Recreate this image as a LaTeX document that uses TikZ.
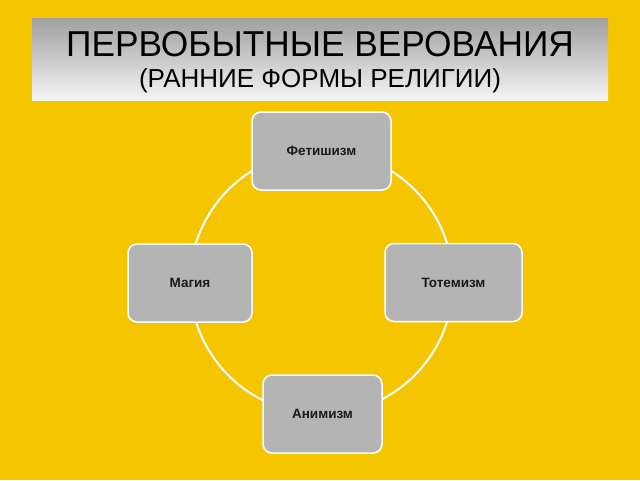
\documentclass[tikz,border=0pt]{standalone}
\usepackage{fontspec}
\setmainfont{Liberation Sans}
\definecolor{bgyellow}{HTML}{F5C500}
\definecolor{boxgray}{HTML}{B4B4B4}
\definecolor{txtdark}{HTML}{1A1A1A}

\begin{document}
\begin{tikzpicture}[x=1pt, y=-1pt,
		cult/.style={draw=white, line width=1.5pt, rounded corners=9pt, fill=boxgray,
			text=txtdark, font=\fontsize{13.5}{16}\selectfont\bfseries, minimum height=78pt},
		ring/.style={draw=white, line width=2pt}]
			\fill[bgyellow] (0, 0) rectangle (640, 480);
			\useasboundingbox (0, 0) rectangle (640, 480);
			\shade[top color=gray!75, bottom color=white!92!gray] (32, 18) rectangle (608, 100);
			\draw (320, 44) 	node[font=\fontsize{36}{40}\selectfont, xscale=0.98] 	(title) 	{ПЕРВОБЫТНЫЕ ВЕРОВАНИЯ};
			\draw (320, 81) 	node[font=\fontsize{26}{30}\selectfont] 	(subtitle) 	{(РАННИЕ ФОРМЫ РЕЛИГИИ)};

			\coordinate (hub) at (321.5, 282.5);
			\draw[ring] (hub) circle (131.5pt);

			\draw (321.5, 151) 	node[cult, minimum width=139pt] 	(fetish) 	{Фетишизм};
			\draw (453.5, 282.5) 	node[cult, minimum width=137pt] 	(totem) 	{Тотемизм};
			\draw (322.5, 414) 	node[cult, minimum width=119pt] 	(anim) 		{Анимизм};
			\draw (190, 283) 	node[cult, minimum width=124pt] 	(magic) 	{Магия};
		\end{tikzpicture}
\end{document}
